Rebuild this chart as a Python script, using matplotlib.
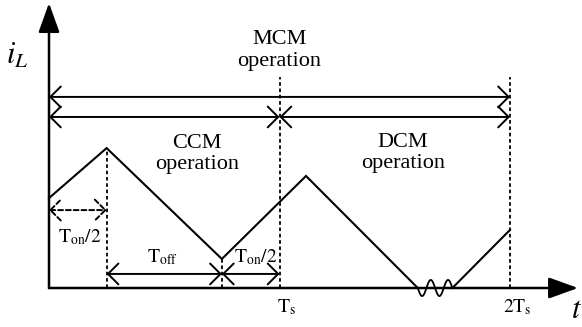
import numpy as np
import matplotlib.pyplot as plt

plt.rcParams["font.family"] = ["Liberation Serif", "DejaVu Serif"]
plt.rcParams["mathtext.fontset"] = "stix"

# inductor current waveform, time in units of Ts, current in same scale
wave_t = [0.0, 0.25, 0.75, 1.115, 1.60]
wave_i = [0.39, 0.607, 0.126, 0.486, 0.0]
wave2_t = [1.75, 2.0]
wave2_i = [0.0, 0.252]

# dashed guide lines (time, upper end)
guide_t = [0.25, 0.75, 1.0, 2.0]
guide_top = [0.607, 0.126, 0.915, 0.915]

# operation regions
mcm_span = (0.0, 2.0)
ccm_span = (0.0, 1.0)
dcm_span = (1.0, 2.0)

tick_t = [1.0, 2.0]
tick_labels = [r"$\mathrm{T_s}$", r"$\mathrm{2T_s}$"]

S = 230.5  # px per unit
fig = plt.figure(figsize=(5.82, 3.27), dpi=100)
ax = fig.add_axes([0, 0, 1, 1])
ax.set_xlim(-49 / S, (582 - 49) / S)
ax.set_ylim(-(327 - 288) / S, 288 / S)
ax.axis("off")

# axes with filled arrow heads
axis_kw = dict(arrowstyle="-|>, head_length=1.8, head_width=0.65",
               mutation_scale=10, lw=1.8, color="black",
               shrinkA=0, shrinkB=0)
ax.annotate("", xy=(0, 1.236), xytext=(0, 0), arrowprops=axis_kw)
ax.annotate("", xy=(2.295, 0), xytext=(0, 0), arrowprops=axis_kw)

# waveform
ax.plot(wave_t, wave_i, color="black", lw=1.5, solid_joinstyle="miter")
ax.plot(wave2_t, wave2_i, color="black", lw=1.5)
# break symbol on the zero segment
s = np.linspace(0, 1, 100)
ax.plot(wave_t[-1] + s * (wave2_t[0] - wave_t[-1]),
        -0.035 * np.sin(2 * np.pi * 2 * s), color="black", lw=1.3)

# dashed guides
ax.vlines(guide_t, 0, guide_top, colors="black", lw=1.3,
          linestyles=(0, (2, 1.5)))

arr_kw = dict(arrowstyle="<->, head_length=0.75, head_width=0.75",
              mutation_scale=10, lw=1.4, color="black",
              shrinkA=0, shrinkB=0)


def span_arrow(x0, x1, y, **extra):
    kw = dict(arr_kw)
    kw.update(extra)
    ax.annotate("", xy=(x1, y), xytext=(x0, y), arrowprops=kw)


span_arrow(mcm_span[0], mcm_span[1], 0.829)
span_arrow(ccm_span[0], ccm_span[1], 0.742)
span_arrow(dcm_span[0], dcm_span[1], 0.742)
span_arrow(0.0, guide_t[0], 0.338, linestyle=(0, (2.5, 1.5)))
span_arrow(guide_t[0], guide_t[1], 0.061)
span_arrow(guide_t[1], guide_t[2], 0.061)

txt = dict(ha="center", va="center", fontsize=16, linespacing=1.2)
ax.text(1.0, 1.03, "MCM\noperation", **txt)
ax.text(0.642, 0.581, "CCM\noperation", **txt)
ax.text(1.536, 0.586, "DCM\noperation", **txt)

lab = dict(ha="center", va="baseline", fontsize=14)
ax.text(0.134, 0.2, r"$\mathrm{T_{on}/2}$", **lab)
ax.text(0.49, 0.113, r"$\mathrm{T_{off}}$", **lab)
ax.text(0.898, 0.113, r"$\mathrm{T_{on}/2}$", **lab)
for t, l in zip(tick_t, tick_labels):
    ax.text(t + 0.03, -0.106, l, **lab)

ax.text(2.29, -0.13, r"$t$", ha="center", va="baseline", fontsize=22)
ax.text(-0.139, 1.007, r"$i_L$", ha="center", va="center", fontsize=22)

fig.savefig("out.png", dpi=100)
